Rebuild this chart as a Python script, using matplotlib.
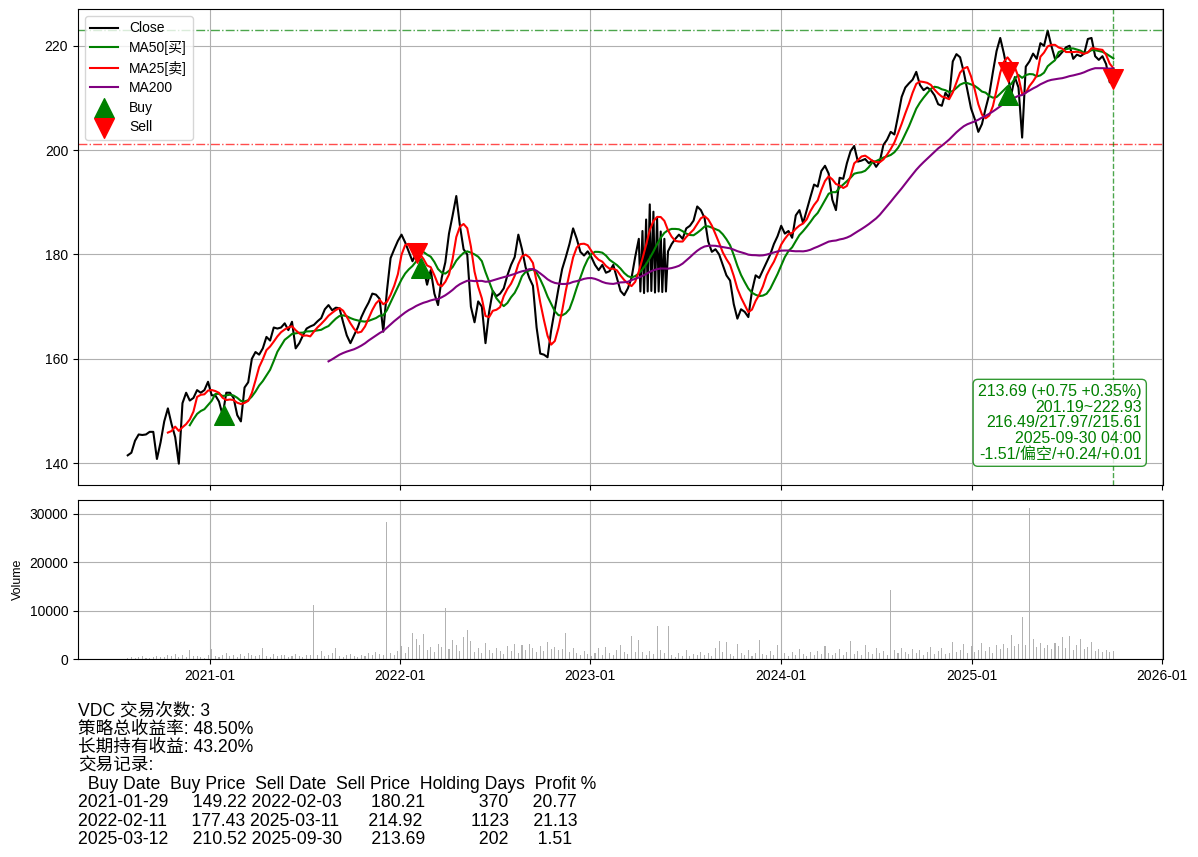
import matplotlib
matplotlib.use("Agg")
import matplotlib.pyplot as plt
import matplotlib.dates as mdates
import numpy as np
import pandas as pd

plt.rcParams['font.family'] = ['Liberation Sans', 'Noto Sans CJK SC']

# weekly closes, first week 2020-07-28
close_vals = [
    141.5, 142.0, 144.3, 145.5, 145.4, 145.5, 146.0, 146.0, 140.8, 144.0,
    148.0, 150.5, 147.5, 145.0, 139.9, 151.5, 153.5, 152.0, 152.5, 154.0,
    153.5, 154.0, 155.6, 153.0, 153.0, 151.8, 149.2, 153.5, 153.5, 152.5,
    149.2, 148.0, 154.5, 155.5, 160.0, 161.3, 160.8, 162.0, 164.2, 163.5,
    166.0, 165.8, 166.0, 166.8, 165.5, 167.1, 162.0, 163.0, 164.5, 165.8,
    166.2, 166.5, 167.2, 167.8, 169.5, 170.3, 169.3, 169.8, 169.7, 167.0,
    164.5, 163.0, 164.5, 166.0, 168.0, 169.5, 170.8, 172.5, 172.3, 171.5,
    165.2, 173.0, 179.3, 181.0, 182.6, 183.8, 182.3, 180.5, 178.7, 180.2,
    179.0, 177.4, 174.2, 177.0, 172.5, 170.3, 175.5, 178.5, 184.0, 187.5,
    191.2, 185.5, 181.0, 180.0, 170.0, 167.0, 171.0, 170.0, 163.0, 169.0,
    173.0, 172.0, 172.5, 173.5, 176.0, 178.0, 179.5, 183.8, 181.0, 177.5,
    175.5, 174.0, 166.0, 161.0, 160.8, 160.3, 165.5, 169.5, 173.5, 177.2,
    179.5, 182.0, 185.0, 183.0, 180.5, 179.8, 180.6, 179.5, 178.0, 177.0,
    178.0, 176.5, 176.8, 178.0, 175.5, 173.0, 172.2, 173.5, 175.5, 179.5,
    183.0, 184.5, 186.7, 189.6, 188.2, 187.0, 184.4, 183.0, 180.6, 182.0,
    183.0, 183.8, 183.0, 185.0, 185.5, 186.5, 189.2, 188.5, 187.0, 182.5,
    180.5, 181.0, 180.0, 178.0, 176.0, 175.0, 170.5, 167.7, 169.5, 169.0,
    168.0, 173.0, 176.0, 175.5, 177.0, 178.5, 180.0, 182.0, 183.5, 185.5,
    184.0, 184.5, 183.2, 187.5, 188.5, 186.0, 188.5, 191.0, 193.4, 193.0,
    196.0, 197.0, 195.5, 190.5, 188.5, 194.7, 194.5, 197.5, 199.8, 200.8,
    197.8, 198.0, 198.3, 197.5, 198.0, 196.8, 197.8, 201.0, 202.0, 203.5,
    203.0, 206.5, 210.2, 212.0, 212.8, 213.5, 215.0, 212.5, 211.5, 212.0,
    211.5, 210.5, 208.8, 208.5, 211.0, 210.0, 217.0, 218.4, 217.8, 215.0,
    211.5, 208.0, 206.0, 203.5, 205.0, 208.0, 210.7, 215.0, 219.0, 221.5,
    218.5, 214.9, 210.5, 214.0, 212.0, 202.4, 216.0, 217.0, 218.5, 217.5,
    220.5, 220.0, 222.9, 220.0, 217.5, 218.0, 218.8, 219.7, 220.0, 217.5,
    218.3, 218.0, 218.5, 221.3, 221.5, 218.0, 217.3, 218.0, 216.5, 213.0,
    213.69,
]

# weekly volume
volume_vals = [
    300, 500, 200, 400, 600, 300, 250, 500, 700, 400, 350, 900, 600, 1100, 500, 800, 400, 1900, 600, 700, 500, 300, 800,
    2100, 700, 500, 900, 1200, 600, 800, 400, 1000, 700, 1300, 900, 600, 800, 2300, 700, 500, 1000, 600, 800, 900, 400,
    700, 1100, 600, 500, 800, 900, 11200,
    800, 1700, 600, 900, 1200, 2300, 700, 500, 800, 1000, 600, 400, 900, 700, 1200, 800, 1500, 1100, 900,
    28200,
    1300, 900, 1600, 2600, 1200, 2500, 5400, 4200, 2800, 5200, 1800, 2500, 1400, 3000, 2400, 10600, 2100, 3900, 2800,
    1600, 4500, 6000, 3800, 1500, 2200, 1300, 3400, 1900, 1200,
    2300, 1700, 1000, 2700, 1600, 3100, 1200, 2800, 1800, 3200, 2200, 1400, 2700, 1600, 3500, 2100, 2500, 1800, 2000,
    5300, 1500, 2200, 1300, 900, 1600, 1100, 700,
    1200, 2200, 900, 2400, 1300, 800, 1800, 2900, 1500, 1100, 4800, 1500, 3900, 1400, 900, 1600, 1100, 6800, 1800,
    1200, 6900, 800, 500,
    1300, 700, 1900, 600, 1100, 800, 1500, 900, 1200, 700, 2200, 3800, 1400, 3500, 1000, 600, 3000, 1200, 900, 1800,
    700, 1300, 4000, 1100, 800, 1600, 900, 2800, 2600,
    1200, 700, 1500, 900, 2000, 1100, 600, 1400, 800, 1700, 1000, 2700, 1300, 900, 1200, 2100, 800, 1500, 3800, 1100,
    1700, 900, 2900, 1400, 1000, 2300, 1200, 1600, 900,
    14300,
    1900, 1200, 2300, 1500, 1000, 2100, 1300, 1800, 900, 1400, 2500, 1100, 1600, 2200, 1000, 1300, 3500, 1500, 1800,
    3200, 1200, 2600, 1400, 1900, 3300, 1700, 2400, 1300, 2800, 2000, 3100, 2300, 5000, 2700, 3000,
    8700, 2900, 31200, 4100, 2500, 3300, 2200, 2800, 2100, 3400, 2600, 4600, 2300, 4700, 1900, 2800, 4200, 2000, 2500,
    3600, 1700, 2000, 1500, 1800, 1400, 1600,
]

# bad ticks in spring 2023 (the dense black spikes)
glitch_start = "2023-04-07"
glitch_vals = [172.9, 172.6, 172.9, 173.0, 172.7, 172.9, 172.8, 172.9]

# first date each moving average shows up on the chart
ma_first = {"MA25": "2020-10-07", "MA50": "2020-11-21", "MA200": "2021-08-14"}

buy_dates = ["2021-01-29", "2022-02-11", "2025-03-12"]
buy_prices = [149.22, 177.43, 210.52]
sell_dates = ["2022-02-03", "2025-03-11", "2025-09-30"]
sell_prices = [180.21, 214.92, 213.69]
hold_days = [370, 1123, 202]
profit_pct = [20.77, 21.13, 1.51]

range_low, range_high = 201.19, 222.93
info_lines = [
    "213.69 (+0.75 +0.35%)",
    "201.19~222.93",
    "216.49/217.97/215.61",
    "2025-09-30 04:00",
    "-1.51/偏空/+0.24/+0.01",
]
summary_lines = [
    "VDC 交易次数: 3",
    "策略总收益率: 48.50%",
    "长期持有收益: 43.20%",
    "交易记录:",
]

dates = pd.date_range("2020-07-28", periods=len(close_vals), freq="7D")
close = pd.Series(close_vals, index=dates)
volume = pd.Series(volume_vals, index=dates)

glitch = pd.Series(glitch_vals, index=pd.date_range(glitch_start, periods=len(glitch_vals), freq="7D"))
close_plot = pd.concat([close, glitch]).sort_index()

ma25 = close.rolling(5).mean()
ma50 = close.rolling(10).mean()
ma200 = close.rolling(40).mean()
ma25[ma25.index < ma_first["MA25"]] = np.nan
ma50[ma50.index < ma_first["MA50"]] = np.nan
ma200[ma200.index < ma_first["MA200"]] = np.nan

fig = plt.figure(figsize=(11.98, 8.57), dpi=100)
gs = fig.add_gridspec(2, 1, height_ratios=[3, 1], hspace=0.047)
fig.subplots_adjust(left=0.065, right=0.971, top=0.9895, bottom=0.231)
ax = fig.add_subplot(gs[0])
ax2 = fig.add_subplot(gs[1], sharex=ax)

ax.plot(close_plot.index, close_plot.values, color="black", lw=1.5, label="Close")
ax.plot(ma50.index, ma50.values, color="green", lw=1.5, label="MA50[买]")
ax.plot(ma25.index, ma25.values, color="red", lw=1.5, label="MA25[卖]")
ax.plot(ma200.index, ma200.values, color="purple", lw=1.5, label="MA200")
ax.scatter(pd.to_datetime(buy_dates), buy_prices, marker="^", color="green", s=200, label="Buy", zorder=5)
ax.scatter(pd.to_datetime(sell_dates), sell_prices, marker="v", color="red", s=200, label="Sell", zorder=5)

ax.axhline(range_high, color="green", ls="-.", lw=1, alpha=0.7)
ax.axhline(range_low, color="red", ls="-.", lw=1, alpha=0.7)
ax.axvline(dates[-1], color="green", ls="--", lw=1, alpha=0.7)

ax.text(0.98, 0.05, "\n".join(info_lines), transform=ax.transAxes, ha="right", va="bottom",
        color="green", fontsize=11.5, linespacing=1.05,
        bbox=dict(boxstyle="round,pad=0.3", fc="white", ec="green", alpha=0.8))

ax.legend(loc="upper left", fontsize=10, labelspacing=0.4)
ax.grid(True)
plt.setp(ax.get_xticklabels(), visible=False)

ax2.bar(volume.index, volume.values, width=2, color="gray", alpha=0.6)
ax2.set_ylabel("Volume", fontsize=9)
ax2.grid(True)
ax2.xaxis.set_major_locator(mdates.YearLocator())
ax2.xaxis.set_major_formatter(mdates.DateFormatter("%Y-%m"))

trades = pd.DataFrame({
    "Buy Date": buy_dates,
    "Buy Price": buy_prices,
    "Sell Date": sell_dates,
    "Sell Price": sell_prices,
    "Holding Days": hold_days,
    "Profit %": profit_pct,
})
summary = "\n".join(summary_lines) + "\n" + trades.to_string(index=False)
fig.text(0.065, 0.18, summary, ha="left", va="top", fontsize=12.7, linespacing=1.1)

fig.savefig("out.png", dpi=100)
